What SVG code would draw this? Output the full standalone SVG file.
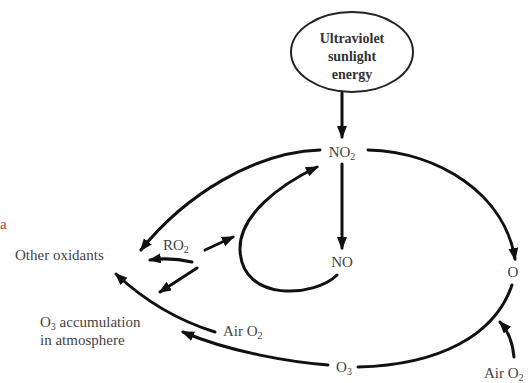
<svg xmlns="http://www.w3.org/2000/svg" width="532" height="383" viewBox="0 0 532 383">
<defs>
<marker id="ah" markerUnits="userSpaceOnUse" markerWidth="14" markerHeight="12" refX="11" refY="5" orient="auto">
<path d="M0,0 L13,5 L0,10 z" fill="#111"/>
</marker>
<style>
.t{font-family:"Liberation Serif","Times New Roman",serif;font-size:15px;fill:#444;}
.tb{font-family:"Liberation Serif","Times New Roman",serif;font-size:14px;font-weight:bold;fill:#333;}
.c{fill:none;stroke:#111;stroke-width:3;stroke-linecap:round;marker-end:url(#ah);}
.n{fill:none;stroke:#111;stroke-width:3;stroke-linecap:round;}
</style>
</defs>
<rect width="532" height="383" fill="#fff"/>
<text x="0" y="229" class="t" style="fill:#c0392b">a</text>
<g id="uv">
<ellipse cx="352" cy="52" rx="61" ry="40" fill="#fff" stroke="#222" stroke-width="2"/>
<text class="tb" text-anchor="middle"><tspan x="352" y="43">Ultraviolet</tspan><tspan x="352" y="61">sunlight</tspan><tspan x="352" y="79">energy</tspan></text>
</g>
<g id="no2"><text x="342" y="157" class="t" text-anchor="middle">NO<tspan font-size="10" dy="3">2</tspan></text></g>
<g id="no"><text x="342" y="267" class="t" text-anchor="middle">NO</text></g>
<g id="o"><text x="513" y="277" class="t" text-anchor="middle">O</text></g>
<g id="o3"><text x="344" y="372" class="t" text-anchor="middle">O<tspan font-size="10" dy="3">3</tspan></text></g>
<g id="airo2right"><text x="484" y="378" class="t">Air O<tspan font-size="10" dy="3">2</tspan></text></g>
<g id="airo2mid"><text x="223" y="336" class="t">Air O<tspan font-size="10" dy="3">2</tspan></text></g>
<g id="ro2"><text x="163" y="250" class="t">RO<tspan font-size="10" dy="3">2</tspan></text></g>
<g id="other"><text x="15" y="260" class="t">Other oxidants</text></g>
<g id="o3acc"><text class="t"><tspan x="40" y="327">O<tspan font-size="10" dy="3">3</tspan><tspan dy="-3"> accumulation</tspan></tspan><tspan x="40" y="345">in atmosphere</tspan></text></g>
<g id="connectors">
<path class="c" d="M342,93 L342,137"/>
<path class="c" d="M342,164 L342,248"/>
<path class="c" d="M368,150 C440,152 505,195 515,259"/>
<path class="n" d="M512,285 C495,335 440,365 358,367"/>
<path class="c" d="M514,357 Q512,335 500,322"/>
<path class="c" d="M328,365 C290,362 230,352 183,332"/>
<path class="c" d="M215,332 Q160,315 116,274"/>
<path class="c" d="M320,150 C255,152 185,195 141,250"/>
<path class="c" d="M205,250 L233,237"/>
<path class="c" d="M192,262 Q170,257 150,260"/>
<path class="c" d="M197,268 L160,292"/>
<path class="c" d="M337,275 C315,297 242,303 240,250 C239,215 280,185 317,167"/>
</g>
</svg>
